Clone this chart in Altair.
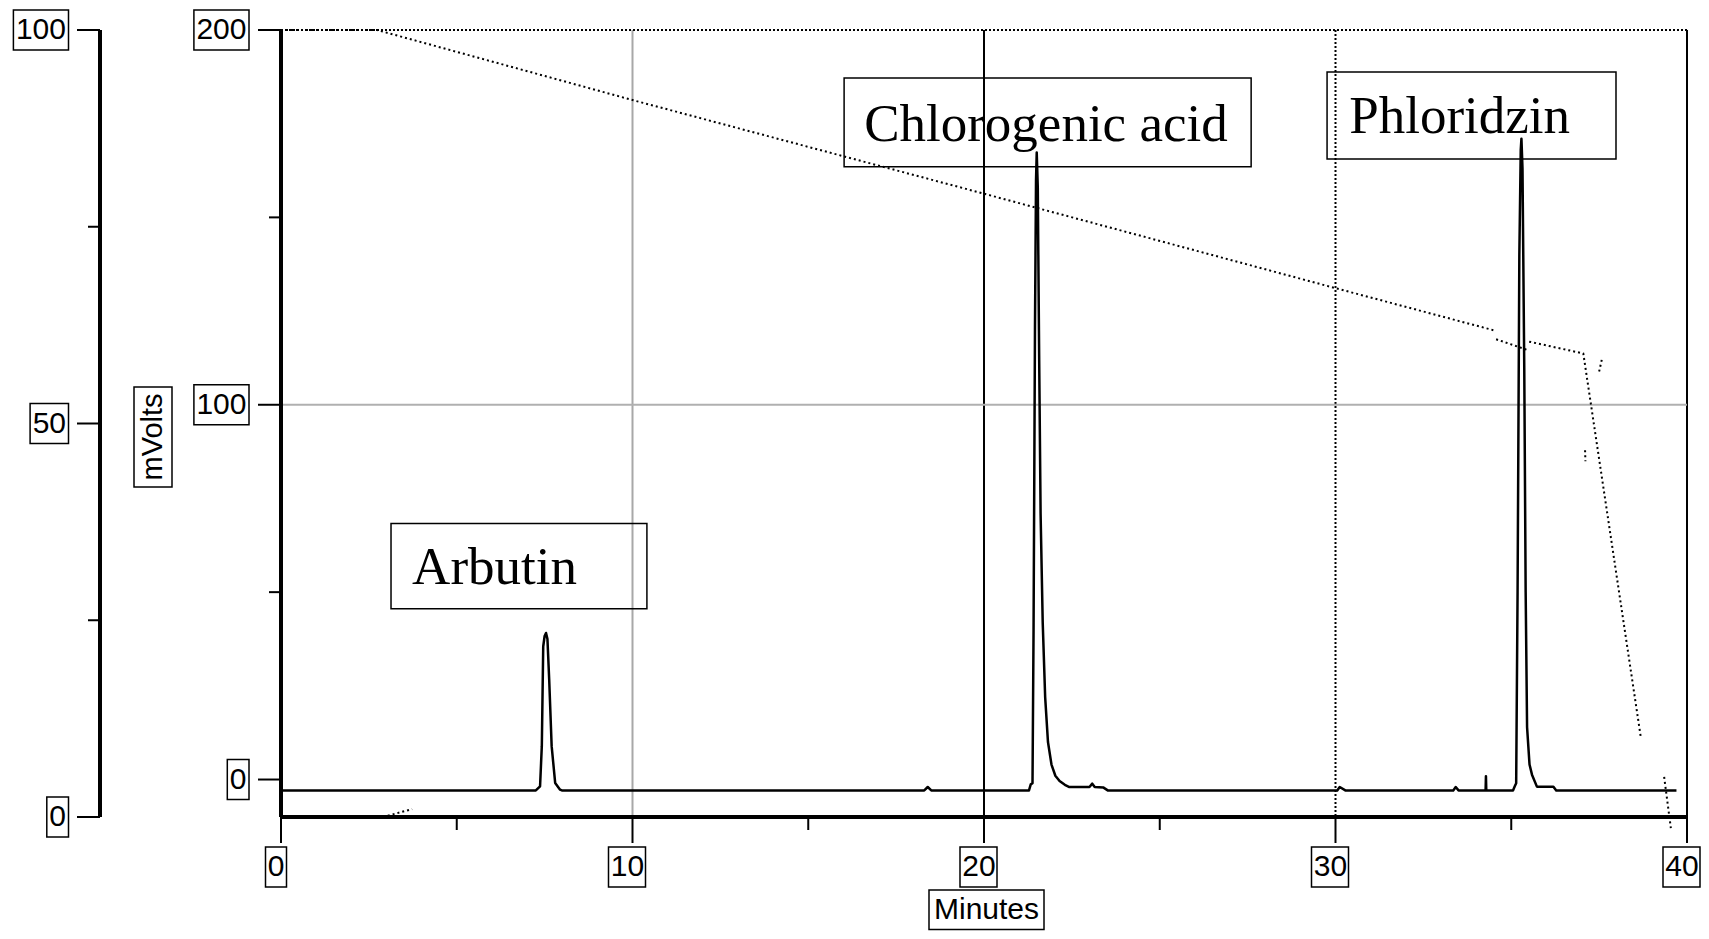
import altair as alt
import pandas as pd

# ---------------- data ----------------
# detector signal: retention time (minutes) and response (mVolts)
sig_t = [0.0, 7.25, 7.37, 7.42, 7.46, 7.50, 7.54, 7.58, 7.63, 7.70, 7.80, 7.94, 7.99,
         18.30, 18.40, 18.50,
         21.28, 21.33, 21.38, 21.41, 21.45, 21.48, 21.50, 21.53, 21.57, 21.61, 21.67,
         21.74, 21.82, 21.92, 22.03, 22.15, 22.30, 22.43, 23.00, 23.08, 23.15, 23.39, 23.52,
         30.05, 30.12, 30.28, 33.35, 33.42, 33.50, 34.27, 34.28, 34.29,
         35.05, 35.10, 35.14, 35.18, 35.23, 35.27, 35.29, 35.32, 35.37, 35.41, 35.45,
         35.52, 35.59, 35.73, 36.20, 36.28, 39.70]
sig_mv = [-2.9, -2.9, -1.8, 8.9, 35.5, 38.3, 39.1, 37.5, 26.7, 8.9, -0.9, -2.7, -2.9,
          -2.9, -2.0, -2.9,
          -2.9, -1.3, -1.0, 40.0, 120.0, 160.0, 167.3, 158.0, 112.0, 71.0, 42.0,
          22.0, 10.0, 4.0, 1.0, -0.4, -1.4, -2.0, -2.0, -1.1, -2.0, -2.1, -2.9,
          -2.9, -2.0, -2.9, -2.9, -2.0, -2.9, -2.9, 0.9, -2.9,
          -2.9, -1.8, -1.0, 50.0, 140.0, 168.0, 171.0, 163.0, 110.0, 50.0, 14.0,
          4.0, 1.3, -1.9, -1.9, -2.9, -2.9]

# dotted gradient trace (left-hand 0-100 scale), drawn as separate pieces
grad_seg = ["A"] * 6 + ["B"] * 2 + ["C"] * 3 + ["D"] * 2 + ["E"] * 2 + ["F"] * 2 + ["G"] * 2
grad_t = [0.0, 2.73, 10.0, 20.0, 30.0, 34.54,
          34.57, 35.49,
          35.51, 37.05, 38.68,
          37.50, 37.58,
          37.10, 37.11,
          39.35, 39.54,
          2.90, 3.73]
grad_pct = [100.0, 100.0, 91.1, 79.2, 67.2, 61.8,
            60.7, 59.3,
            60.4, 58.9, 10.3,
            56.6, 58.2,
            46.6, 45.2,
            5.1, -1.4,
            0.0, 1.0]

# axes
x_major = [0, 10, 20, 30, 40]
x_labels = ["0", "10", "20", "30", "40"]
x_minor = [5, 15, 25, 35]
y_major = [0, 100, 200]
y_labels = ["0", "100", "200"]
y_minor = [50, 150]
p_major = [0, 50, 100]
p_labels = ["0", "50", "100"]
p_minor = [25, 75]

# peak annotations
ann_text = ["Arbutin", "Chlorogenic acid", "Phloridzin"]
ann_x = [3.73, 16.59, 30.39]
ann_y = [52.1, 170.5, 172.4]
ann_bx1 = [3.13, 16.02, 29.76]
ann_bx2 = [10.41, 27.60, 37.98]
ann_by1 = [45.6, 163.5, 165.6]
ann_by2 = [68.3, 187.2, 188.8]

# ---------------- tables ----------------
sig_df = pd.DataFrame({"t": sig_t, "mv": sig_mv, "i": range(len(sig_t))})
grad_df = pd.DataFrame({"t": grad_t, "p": grad_pct, "seg": grad_seg, "i": range(len(grad_t))})
xt = pd.DataFrame({"v": x_major, "lab": x_labels})
xm = pd.DataFrame({"v": x_minor})
yt = pd.DataFrame({"v": y_major, "lab": y_labels})
ym = pd.DataFrame({"v": y_minor})
pt = pd.DataFrame({"v": p_major, "lab": p_labels})
pm = pd.DataFrame({"v": p_minor})
ann = pd.DataFrame({"label": ann_text, "x": ann_x, "y": ann_y,
                    "x1": ann_bx1, "x2": ann_bx2, "y1": ann_by1, "y2": ann_by2})

W, H = 1406, 787
SANS = "Liberation Sans"
SERIF = "Liberation Serif"

xs = alt.Scale(domain=[0, 40], nice=False, zero=False)
ys = alt.Scale(domain=[-10, 200], nice=False, zero=False)
ps = alt.Scale(domain=[0, 100], nice=False, zero=False)


def X(f):
    return alt.X(f, type="quantitative", scale=xs, axis=None)


def Y(f):
    return alt.Y(f, type="quantitative", scale=ys, axis=None)


def P(f):
    return alt.Y(f, type="quantitative", scale=ps, axis=None)


# ---------------- main (mVolts) layers ----------------
grid10 = alt.Chart(xt).transform_filter("datum.v == 10").mark_rule(
    color="#a8a8a8", strokeWidth=2).encode(x=X("v"), y=alt.value(0), y2=alt.value(H))
grid20 = alt.Chart(xt).transform_filter("datum.v == 20").mark_rule(
    color="black", strokeWidth=2).encode(x=X("v"), y=alt.value(0), y2=alt.value(H))
grid30 = alt.Chart(xt).transform_filter("datum.v == 30").mark_rule(
    color="black", strokeWidth=2, strokeDash=[2, 2]).encode(x=X("v"), y=alt.value(0), y2=alt.value(H))
border40 = alt.Chart(xt).transform_filter("datum.v == 40").mark_rule(
    color="black", strokeWidth=2).encode(x=X("v"), y=alt.value(0), y2=alt.value(H))
grid100 = alt.Chart(yt).transform_filter("datum.v == 100").mark_rule(
    color="#b0b0b0", strokeWidth=2).encode(y=Y("v"), x=alt.value(0), x2=alt.value(W))
top_border = alt.Chart(yt).transform_filter("datum.v == 200").mark_rule(
    color="black", strokeWidth=2, strokeDash=[2, 2]).encode(y=Y("v"), x=alt.value(0), x2=alt.value(W))

x_axis_line = alt.Chart(xt).transform_aggregate(lo="min(v)", hi="max(v)").mark_rule(
    color="black", strokeWidth=4).encode(x=X("lo"), x2="hi:Q", y=alt.value(H))
y_axis_line = alt.Chart(yt).transform_aggregate(lo="min(v)", hi="max(v)").mark_rule(
    color="black", strokeWidth=4).encode(x=alt.value(0), y=alt.value(0), y2=alt.value(H))

x_ticks = alt.Chart(xt).mark_rule(color="black", strokeWidth=2).encode(
    x=X("v"), y=alt.value(H), y2=alt.value(H + 26))
x_mticks = alt.Chart(xm).mark_rule(color="black", strokeWidth=2).encode(
    x=X("v"), y=alt.value(H), y2=alt.value(H + 13))
y_ticks = alt.Chart(yt).mark_rule(color="black", strokeWidth=2).encode(
    y=Y("v"), x=alt.value(-23), x2=alt.value(0))
y_mticks = alt.Chart(ym).mark_rule(color="black", strokeWidth=2).encode(
    y=Y("v"), x=alt.value(-12), x2=alt.value(0))

x_lab = alt.Chart(xt).mark_text(font=SANS, fontSize=30, align="center", baseline="middle",
                                dx=-5, color="black").encode(x=X("v"), y=alt.value(H + 50), text="lab:N")
x_box1 = alt.Chart(xt).transform_filter("length(datum.lab) == 1").mark_rect(
    filled=False, stroke="black", strokeWidth=1.5, xOffset=-15.5, x2Offset=5.5).encode(
    x=X("v"), x2="v:Q", y=alt.value(H + 30), y2=alt.value(H + 70))
x_box2 = alt.Chart(xt).transform_filter("length(datum.lab) > 1").mark_rect(
    filled=False, stroke="black", strokeWidth=1.5, xOffset=-24, x2Offset=13).encode(
    x=X("v"), x2="v:Q", y=alt.value(H + 30), y2=alt.value(H + 70))

y_lab = alt.Chart(yt).mark_text(font=SANS, fontSize=30, align="right", baseline="middle",
                                color="black").encode(y=Y("v"), x=alt.value(-34.5), text="lab:N")
y_box = alt.Chart(yt).transform_calculate(bx="-32 - (length(datum.lab) * 16.7 + 5)").mark_rect(
    filled=False, stroke="black", strokeWidth=1.5, yOffset=-20, y2Offset=20).encode(
    y=Y("v"), y2="v:Q", x=alt.X("bx:Q", scale=None, axis=None), x2=alt.value(-32))

signal = alt.Chart(sig_df).mark_line(color="black", strokeWidth=2.5, strokeJoin="round").encode(
    x=X("t"), y=Y("mv"), order="i:Q")

ann_box = alt.Chart(ann).mark_rect(filled=False, stroke="black", strokeWidth=1.5).encode(
    x=X("x1"), x2="x2:Q", y=Y("y1"), y2="y2:Q")
ann_txt = alt.Chart(ann).mark_text(font=SERIF, fontSize=53, align="left", baseline="alphabetic",
                                   color="black").encode(x=X("x"), y=Y("y"), text="label:N")

title_df = pd.DataFrame({"ylab": ["mVolts"], "xlab": ["Minutes"]})
ytitle = alt.Chart(title_df).mark_text(font=SANS, fontSize=29, angle=270, align="center",
                                       baseline="middle", color="black").encode(
    x=alt.value(-128), y=alt.value(407), text="ylab:N")
ytitle_box = alt.Chart(title_df).mark_rect(filled=False, stroke="black", strokeWidth=1.5).encode(
    x=alt.value(-147), x2=alt.value(-109), y=alt.value(357), y2=alt.value(457))
xtitle = alt.Chart(title_df).mark_text(font=SANS, fontSize=30, align="center",
                                       baseline="middle", color="black").encode(
    x=alt.value(705.5), y=alt.value(879.5), text="xlab:N")
xtitle_box = alt.Chart(title_df).mark_rect(filled=False, stroke="black", strokeWidth=1.5).encode(
    x=alt.value(648), x2=alt.value(763), y=alt.value(860), y2=alt.value(899.5))

main = alt.layer(
    grid10, grid20, grid30, border40, grid100, top_border,
    x_ticks, x_mticks, y_ticks, y_mticks, x_axis_line, y_axis_line,
    x_lab, x_box1, x_box2, y_lab, y_box,
    ann_box, ann_txt, ytitle, ytitle_box, xtitle, xtitle_box,
    signal,
)

# ---------------- gradient (0-100) layers ----------------
grad_line = alt.Chart(grad_df).mark_line(color="black", strokeWidth=2, strokeDash=[2, 3]).encode(
    x=X("t"), y=P("p"), detail="seg:N", order="i:Q")
p_axis_line = alt.Chart(pt).transform_aggregate(lo="min(v)", hi="max(v)").mark_rule(
    color="black", strokeWidth=4).encode(x=alt.value(-181), y=P("hi"), y2="lo:Q")
p_ticks = alt.Chart(pt).mark_rule(color="black", strokeWidth=2).encode(
    y=P("v"), x=alt.value(-204), x2=alt.value(-181))
p_mticks = alt.Chart(pm).mark_rule(color="black", strokeWidth=2).encode(
    y=P("v"), x=alt.value(-193), x2=alt.value(-181))
p_lab = alt.Chart(pt).mark_text(font=SANS, fontSize=30, align="right", baseline="middle",
                                color="black").encode(y=P("v"), x=alt.value(-215), text="lab:N")
p_box = alt.Chart(pt).transform_calculate(bx="-212.5 - (length(datum.lab) * 16.7 + 5)").mark_rect(
    filled=False, stroke="black", strokeWidth=1.5, yOffset=-20, y2Offset=20).encode(
    y=P("v"), y2="v:Q", x=alt.X("bx:Q", scale=None, axis=None), x2=alt.value(-212.5))

grad = alt.layer(grad_line, p_axis_line, p_ticks, p_mticks, p_lab, p_box)

chart = alt.layer(main, grad).resolve_scale(y="independent").properties(
    width=W, height=H,
    padding={"left": 273, "top": 22, "right": 14, "bottom": 114},
    autosize=alt.AutoSizeParams(type="none"),
    background="white",
).configure_view(stroke=None)

chart.save("out.html", embed_options={"renderer": "svg", "actions": False})
